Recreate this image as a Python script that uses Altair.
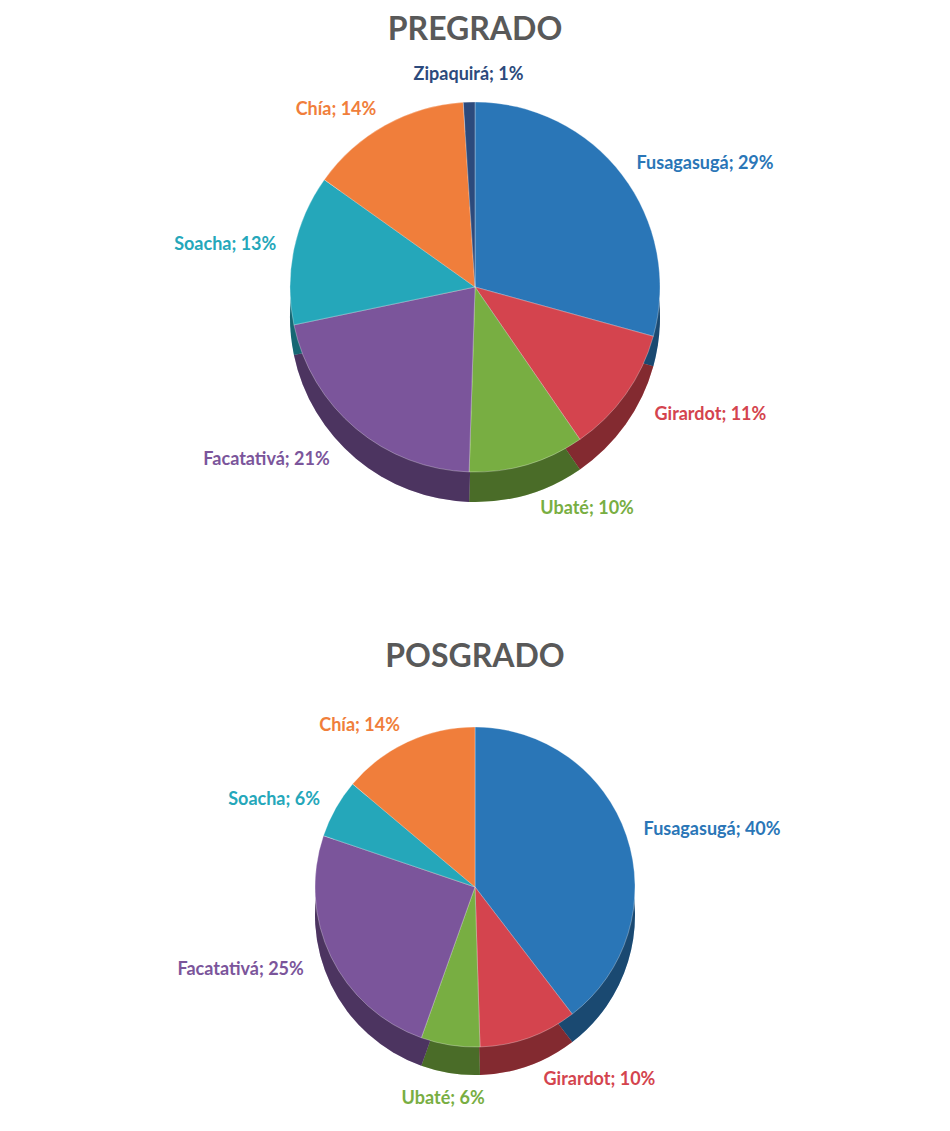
import altair as alt
import pandas as pd

# ---- data ----
ciudades_pre = ["Fusagasugá", "Girardot", "Ubaté", "Facatativá", "Soacha", "Chía", "Zipaquirá"]
valores_pre = [29, 11, 10, 21, 13, 14, 1]
etiquetas_pre = ["Fusagasugá;  29%", "Girardot; 11%", "Ubaté; 10%", "Facatativá;  21%",
                 "Soacha;  13%", "Chía;  14%", "Zipaquirá;  1%"]

ciudades_pos = ["Fusagasugá", "Girardot", "Ubaté", "Facatativá", "Soacha", "Chía"]
valores_pos = [40, 10, 6, 25, 6, 14]
etiquetas_pos = ["Fusagasugá;  40%", "Girardot; 10%", "Ubaté; 6%", "Facatativá;  25%",
                 "Soacha; 6%", "Chía; 14%"]

dominio = ["Fusagasugá", "Girardot", "Ubaté", "Facatativá", "Soacha", "Chía", "Zipaquirá"]
colores = ["#2A76B7", "#D4444E", "#78AE42", "#7B559B", "#25A7BA", "#F07E3B", "#2C4A7C"]

FONT = "Lato"
W = 934


def panel(ciudades, valores, etiquetas, titulo, H, R, h, cy):
    df = pd.DataFrame({
        "ciudad": ciudades,
        "valor": valores,
        "etiqueta": etiquetas,
        "orden": list(range(len(ciudades))),
    })
    color = alt.Color("ciudad:N", scale=alt.Scale(domain=dominio, range=colores), legend=None)
    theta = alt.Theta("valor:Q", stack=True)
    order = alt.Order("orden:Q")

    side = alt.Chart(df).mark_arc(outerRadius=R).encode(
        theta=theta, order=order, color=color, y=alt.value(cy + h))
    shade = alt.Chart(df).mark_arc(outerRadius=R, fill="black", opacity=0.38).encode(
        theta=theta, order=order, y=alt.value(cy + h))
    top = alt.Chart(df).mark_arc(outerRadius=R, stroke="#ffffff", strokeWidth=0.6,
                                 strokeOpacity=0.5).encode(
        theta=theta, order=order, color=color, y=alt.value(cy))
    arcs = alt.layer(side, shade, top)

    tbase = alt.Chart(df).transform_window(
        cum="sum(valor)", sort=[alt.SortField("orden")], frame=[None, 0]
    ).transform_joinaggregate(total="sum(valor)").transform_calculate(
        mid="(datum.cum - datum.valor/2)/datum.total"
    ).transform_calculate(
        rad=f"{R + 18} + {h} * max(0, -cos(2*PI*datum.mid))"
    ).encode(
        theta=alt.Theta("mid:Q", stack=False,
                        scale=alt.Scale(domain=[0, 1], range=[0, 6.283185307179586])),
        radius=alt.Radius("rad:Q", scale=None),
        color=color,
        text="etiqueta:N",
        y=alt.value(cy),
    )
    kw = dict(font=FONT, fontSize=18, fontWeight="bold")
    t_top = tbase.transform_filter("datum.mid < 0.03 || datum.mid > 0.97").mark_text(
        align="center", baseline="bottom", **kw)
    t_bot = tbase.transform_filter("abs(datum.mid - 0.5) <= 0.03").mark_text(
        align="center", baseline="top", **kw)
    t_right = tbase.transform_filter("datum.mid >= 0.03 && datum.mid < 0.47").mark_text(
        align="left", baseline="middle", **kw)
    t_left = tbase.transform_filter("datum.mid > 0.53 && datum.mid <= 0.97").mark_text(
        align="right", baseline="middle", **kw)
    texts = alt.layer(t_top, t_bot, t_right, t_left)

    return alt.layer(arcs, texts).resolve_scale(theta="independent").properties(
        width=W, height=H,
        title=alt.Title(titulo, fontSize=32, font=FONT, fontWeight="bold",
                        color="#595959", anchor="middle", offset=8),
    )


p1 = panel(ciudades_pre, valores_pre, etiquetas_pre, "PREGRADO", H=500, R=185, h=30, cy=232)
p2 = panel(ciudades_pos, valores_pos, etiquetas_pos, "POSGRADO", H=425, R=160, h=28, cy=205)

chart = alt.vconcat(p1, p2, spacing=86).configure_view(stroke=None).properties(
    background="white", padding={"top": 6, "left": 0, "right": 0, "bottom": 0})

chart.save("out.html", embed_options={"renderer": "svg", "actions": False})
